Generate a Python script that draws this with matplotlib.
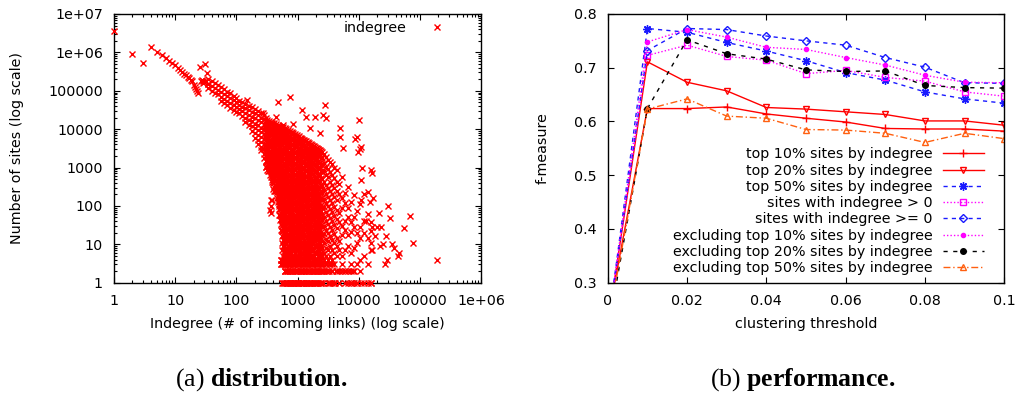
import numpy as np
import matplotlib.pyplot as plt

plt.rcParams['font.family'] = ['DejaVu Sans']
plt.rcParams['mathtext.fontset'] = 'custom'
plt.rcParams['mathtext.rm'] = 'Liberation Serif'
plt.rcParams['mathtext.bf'] = 'Liberation Serif:bold'

# ---- (a) indegree distribution ----
# low indegree trend, one point per indegree value
band_x = [1, 2, 3, 4, 5, 6, 7, 8, 9, 10, 11, 12, 13, 14, 15, 16, 17, 18, 19,
          20, 21, 22, 23, 24, 25, 26, 27, 28, 29, 30, 31, 32, 33, 34]
band_y = [3.6e6, 9e5, 5.2e5, 1.4e6, 1.05e6, 8.5e5, 7e5, 5.9e5, 5.2e5, 4.6e5,
          3.9e5, 3.5e5, 3.1e5, 2.8e5, 2.5e5, 2.3e5, 2.1e5, 1.95e5, 1.8e5,
          1.4e5, 1.25e5, 1.1e5, 1.0e5, 8.8e4, 4.2e5, 1.8e5, 1.9e5, 1.75e5,
          1.6e5, 1.7e5, 4.9e5, 1.8e5, 2.95e5, 1.5e5]

# denser part: indegree column -> counts read in that column
col_x = [35, 40, 45, 50, 56, 63, 70, 80, 90, 100,
         110, 125, 140, 160, 180, 200, 225, 250, 280,
         300, 320, 340, 365, 390, 415, 445, 475, 505, 540, 575, 615, 655,
         700, 750, 800, 855, 915, 980, 1050, 1120, 1200, 1280, 1370, 1460,
         1560, 1670, 1790, 1910, 2050, 2200, 2350, 2500,
         2700, 2900, 3150, 3400, 3700, 4000, 4400, 4800, 5300, 5900, 6600,
         7400, 8300, 9300, 10500, 12000, 14000, 16000]
col_y = [
    [2e5, 1.5e5, 1.15e5],
    [1.8e5, 1.35e5, 1.0e5],
    [1.6e5, 1.2e5, 9e4],
    [1.4e5, 1.05e5, 8e4],
    [1.25e5, 9.2e4, 7e4, 5.5e4],
    [1.1e5, 8.2e4, 6.2e4, 4.8e4],
    [9.5e4, 7.2e4, 5.4e4, 4.2e4],
    [8.5e4, 6.4e4, 4.8e4, 3.6e4],
    [7.5e4, 5.6e4, 4.2e4, 3.2e4],
    [6.5e4, 5e4, 3.7e4, 2.8e4],
    [55000, 42000, 33000, 26000],
    [50000, 38000, 29000, 22000],
    [46000, 35000, 26000, 20000, 15000],
    [41000, 31000, 23000, 17000, 12500],
    [38000, 28000, 21000, 16000, 12000, 9000],
    [34000, 26000, 19000, 14000, 10500, 7800, 6000],
    [30000, 23000, 17000, 12500, 9500, 7000, 5200, 4200],
    [27000, 20000, 15000, 11000, 8300, 6200, 4600, 3400, 2800],
    [24000, 18000, 13500, 10000, 7500, 5600, 4200, 3100, 2300, 1800],
    [19000, 13800, 10000, 7200, 5200, 3800, 2750, 2000, 1450, 1050],
    [17800, 12600, 8900, 6300, 4500, 3200, 2200, 1600, 1100, 850],
    [16600, 12300, 9100, 6800, 5000, 3700, 2750, 2040, 1500, 1120, 830],
    [15800, 11000, 7600, 5200, 3600, 2500, 1740, 1200, 830, 575, 100, 65],
    [14800, 10700, 7800, 5600, 4100, 2950, 2140, 1550, 1120, 810, 590, 430, 140],
    [14100, 10000, 7100, 5000, 3550, 2500, 1780, 1260, 890, 630, 450, 320, 250],
    [13500, 9900, 7200, 5300, 3900, 2850, 2100, 1530, 1120, 820, 600, 440, 320, 240],
    [12900, 9100, 6300, 4500, 3100, 2200, 1520, 1070, 750, 520, 370, 260, 180, 125],
    [12300, 8800, 6300, 4500, 3200, 2300, 1660, 1190, 850, 610, 440, 310, 224, 160, 115, 82, 59],
    [11700, 8300, 5900, 4200, 2950, 2100, 1480, 1050, 740, 520, 370, 260, 185, 130, 93, 66, 46, 33, 23, 4, 3],
    [11200, 8100, 5900, 4300, 3100, 2240, 1620, 1170, 850, 620, 450, 320, 234, 170, 123, 89, 65, 47, 34, 25, 18, 13, 9, 5, 3],
    [10700, 7400, 5100, 3500, 2450, 1700, 1170, 810, 560, 390, 270, 186, 129, 89, 62, 43, 30, 20, 14, 10, 7, 5, 4, 2],
    [10000, 7300, 5400, 3900, 2900, 2100, 1550, 1130, 830, 610, 450, 330, 240, 175, 128, 94, 69, 50, 37, 27, 20, 14, 11, 8, 6, 4, 3, 1],
    [9500, 6800, 4800, 3400, 2400, 1700, 1200, 850, 600, 425, 300, 214, 150, 107, 76, 54, 38, 27, 19, 13, 9, 6, 5, 3, 2],
    [9100, 6500, 4700, 3350, 2400, 1720, 1230, 880, 630, 450, 320, 230, 165, 118, 84, 60, 43, 31, 22, 16, 11, 8, 6, 4, 3, 1],
    [8500, 5950, 4200, 2950, 2050, 1440, 1000, 700, 490, 345, 240, 168, 118, 82, 58, 40, 28, 20, 14, 10, 7, 5, 4, 2],
    [7940, 5750, 4170, 3020, 2190, 1580, 1150, 830, 600, 440, 316, 230, 166, 120, 87, 63, 46, 33, 24, 17, 13, 9, 7, 5, 3, 1],
    [7400, 5250, 3700, 2600, 1860, 1320, 930, 660, 470, 330, 235, 168, 118, 83, 59, 42, 30, 21, 15, 10, 8, 6, 4, 2],
    [6900, 5070, 3720, 2720, 2000, 1460, 1070, 785, 575, 420, 310, 226, 166, 122, 89, 65, 48, 35, 26, 19, 14, 10, 7, 5, 3, 2, 1],
    [6450, 4450, 3100, 2140, 1480, 1020, 710, 490, 340, 234, 162, 112, 78, 54, 37, 26, 18, 12, 9, 6, 4, 3, 1],
    [6000, 4300, 3100, 2200, 1600, 1130, 810, 580, 415, 300, 213, 152, 109, 78, 56, 40, 29, 20, 15, 11, 8, 6, 4, 2],
    [5600, 4000, 2800, 2000, 1400, 1000, 710, 500, 355, 250, 178, 126, 89, 63, 45, 32, 22, 16, 11, 8, 6, 4, 3, 1],
    [5250, 3760, 2690, 1930, 1380, 990, 710, 510, 363, 260, 186, 133, 95, 68, 49, 35, 25, 18, 13, 9, 7, 5, 3, 2],
    [4900, 3450, 2400, 1700, 1180, 830, 580, 405, 285, 200, 140, 98, 68, 48, 34, 24, 16, 11, 8, 6, 4, 2, 1],
    [4570, 3310, 2400, 1740, 1260, 910, 660, 480, 347, 250, 182, 132, 95, 69, 50, 36, 26, 19, 14, 10, 7, 5, 3, 1],
    [4270, 2950, 2040, 1410, 970, 670, 465, 320, 220, 152, 105, 72, 50, 35, 24, 17, 12, 8, 6, 4, 2],
    [4000, 2850, 2050, 1460, 1050, 750, 535, 385, 275, 196, 140, 100, 72, 51, 37, 26, 19, 13, 9, 7, 5, 3, 1],
    [3700, 2630, 1860, 1320, 930, 660, 470, 330, 235, 166, 118, 83, 59, 42, 30, 21, 15, 10, 7, 5, 3, 2],
    [3470, 2400, 1660, 1150, 790, 550, 380, 260, 180, 126, 87, 60, 41, 29, 20, 14, 9, 6, 4, 2, 1],
    [3240, 2290, 1620, 1150, 810, 575, 410, 290, 204, 145, 102, 72, 51, 36, 26, 18, 13, 9, 6, 4, 3, 1],
    [3000, 2050, 1400, 950, 640, 440, 300, 200, 138, 93, 63, 43, 29, 20, 14, 9, 6, 4, 2],
    [2800, 1950, 1350, 933, 645, 447, 309, 214, 148, 102, 71, 49, 34, 23, 16, 11, 8, 5, 3, 1],
    [2600, 1740, 1150, 760, 500, 330, 220, 145, 96, 63, 42, 28, 18, 12, 8, 5, 3, 2],
    [2200, 1300, 820, 430, 260, 150, 95, 52, 30, 19, 11, 6, 4, 2],
    [1900, 1050, 640, 360, 200, 120, 70, 41, 24, 14, 8, 5, 3],
    [1600, 900, 560, 300, 175, 100, 58, 34, 20, 12, 7, 4, 2, 1],
    [1400, 760, 420, 250, 140, 82, 48, 28, 16, 9, 5, 3, 1],
    [1200, 640, 360, 210, 120, 68, 40, 23, 13, 7, 4, 2],
    [1000, 540, 300, 170, 96, 56, 32, 19, 11, 6, 3, 1],
    [850, 420, 240, 140, 80, 46, 27, 15, 9, 5, 2],
    [380, 200, 66, 38, 12, 7, 1],
    [550, 160, 90, 30, 17, 5, 3],
    [220, 120, 40, 23, 7, 2, 1],
    [320, 90, 52, 17, 9, 2],
    [130, 38, 21, 6, 3, 1],
    [190, 50, 28, 8, 2],
    [72, 20, 11, 3, 1],
    [110, 28, 15, 4, 2],
    [40, 20, 5, 1],
    [60, 15, 3],
    [22, 11, 1],
]

# second pass over the solid core, read between the columns above
core_x = [310, 330, 352, 377, 402, 430, 460, 490, 522, 557, 595, 635, 677,
          725, 775, 827, 885, 947, 1015, 1085, 1160, 1240, 1325, 1415, 1510,
          1615, 1730, 1850, 1980, 2125, 2275, 2425]
core_y = [
    [16600, 11700, 8300, 5900, 4200, 2950, 2100, 1480, 1050],
    [15100, 11000, 7900, 5750, 4170, 3020, 2190, 1580, 1150, 830],
    [14500, 10200, 7200, 5100, 3600, 2570, 1820, 1290, 910, 650],
    [13500, 9700, 6900, 4950, 3550, 2540, 1820, 1300, 930, 670, 480],
    [12600, 8900, 6300, 4470, 3160, 2240, 1580, 1120, 790, 560, 400, 280],
    [12000, 8700, 6300, 4570, 3310, 2400, 1740, 1260, 910, 660, 480, 347, 250],
    [11500, 8000, 5600, 3940, 2750, 1930, 1350, 940, 660, 460, 320, 226, 158],
    [11000, 7850, 5620, 4030, 2880, 2070, 1480, 1060, 760, 540, 390, 280, 200, 143, 102],
    [10500, 7400, 5250, 3700, 2630, 1860, 1320, 930, 660, 470, 330, 235, 166, 118, 83, 59, 42],
    [10000, 7200, 5250, 3800, 2750, 2000, 1450, 1050, 760, 550, 400, 290, 210, 150, 110, 79, 58, 42, 30, 22, 16, 11, 7],
    [9500, 6760, 4790, 3390, 2400, 1700, 1200, 850, 600, 430, 300, 214, 150, 107, 76, 54, 38, 27, 19, 13, 9, 6, 4, 3],
    [9100, 6500, 4700, 3350, 2400, 1720, 1230, 880, 630, 450, 320, 230, 166, 119, 85, 61, 44, 31, 22, 16, 11, 8, 5, 3, 2],
    [8700, 6200, 4400, 3100, 2200, 1550, 1100, 780, 550, 390, 275, 195, 138, 98, 69, 49, 35, 25, 17, 12, 8, 6, 4, 2, 1],
    [8300, 6000, 4370, 3160, 2290, 1660, 1200, 870, 630, 460, 330, 240, 174, 126, 91, 66, 48, 35, 25, 18, 13, 9, 7, 5, 3, 2],
    [7800, 5400, 3800, 2660, 1860, 1300, 910, 640, 450, 310, 220, 153, 107, 75, 52, 37, 26, 18, 13, 9, 6, 4, 3, 1],
    [7400, 5300, 3800, 2720, 1950, 1400, 1000, 720, 510, 370, 260, 190, 135, 97, 69, 50, 35, 25, 18, 13, 9, 7, 5, 3, 2],
    [7100, 5000, 3550, 2500, 1780, 1260, 890, 630, 450, 316, 224, 158, 112, 79, 56, 40, 28, 20, 14, 10, 7, 5, 3, 1],
    [6600, 4800, 3470, 2510, 1820, 1320, 950, 690, 500, 363, 263, 190, 138, 100, 72, 52, 38, 28, 20, 14, 10, 7, 5, 4, 2],
    [6300, 4400, 3100, 2160, 1510, 1060, 740, 520, 363, 254, 178, 124, 87, 61, 43, 30, 21, 15, 10, 7, 5, 3, 1],
    [5900, 4200, 3000, 2160, 1550, 1110, 790, 570, 410, 290, 210, 150, 107, 77, 55, 39, 28, 20, 14, 10, 7, 5, 3, 2],
    [5500, 3900, 2750, 1950, 1380, 980, 690, 490, 350, 245, 174, 123, 87, 62, 44, 31, 22, 16, 11, 8, 5, 4, 2],
    [5100, 3700, 2700, 1950, 1410, 1020, 740, 540, 390, 280, 204, 148, 107, 78, 56, 41, 30, 21, 15, 11, 8, 6, 4, 2, 1],
    [4800, 3350, 2340, 1640, 1150, 800, 560, 390, 275, 193, 135, 94, 66, 46, 32, 23, 16, 11, 8, 5, 3, 2],
    [4470, 3200, 2290, 1640, 1170, 840, 600, 430, 310, 221, 158, 114, 81, 58, 42, 30, 21, 15, 11, 8, 5, 3, 1],
    [4170, 2950, 2090, 1480, 1050, 740, 520, 370, 263, 186, 132, 93, 66, 47, 33, 23, 17, 12, 8, 6, 4, 2],
    [3900, 2690, 1860, 1290, 890, 620, 430, 295, 204, 141, 98, 68, 47, 32, 22, 15, 10, 7, 5, 3, 1],
    [3800, 2700, 1900, 1350, 950, 680, 480, 340, 240, 170, 120, 85, 60, 43, 30, 21, 15, 10, 7, 5, 3, 2],
    [3550, 2480, 1740, 1220, 850, 600, 420, 290, 204, 143, 100, 70, 49, 34, 24, 17, 12, 8, 5, 4, 2, 1],
    [3300, 2290, 1580, 1100, 760, 520, 363, 250, 174, 120, 83, 58, 40, 28, 19, 13, 9, 6, 4, 2],
    [3100, 2110, 1450, 990, 680, 460, 316, 216, 148, 101, 69, 47, 32, 22, 15, 10, 7, 5, 3, 1],
    [2900, 1950, 1320, 890, 600, 410, 275, 186, 126, 85, 58, 39, 26, 18, 12, 8, 5, 3, 2],
    [2700, 1800, 1200, 800, 540, 360, 240, 160, 107, 72, 48, 32, 21, 14, 9, 6, 4, 2, 1],
]

# scattered points away from the main cloud
spread_x = [150, 275, 450, 480, 580, 750, 850, 1170, 1400, 1600, 1900, 2300,
            2800, 2650, 2900, 4900, 4900, 5600, 8700, 9500, 10000, 11000,
            10500, 9800, 16000, 16500, 11000, 11500, 14000, 17000, 15500,
            11000, 30000, 21500, 33000, 69000, 16000, 16500, 20000, 23500,
            56000, 18500, 28000, 25000, 35000, 38000, 76000, 16000, 16800,
            46000, 44000, 188000, 29000, 27000, 370, 355, 22000, 13000, 12000]
spread_y = [57000, 26000, 21000, 52000, 13000, 70000, 14000, 31000, 21000,
            11000, 21000, 8000, 42000, 23000, 20000, 11000, 6400, 3300, 5700,
            6300, 17000, 3500, 3100, 2600, 860, 700, 470, 1000, 230, 160, 130,
            140, 100, 66, 48, 55, 39, 29, 28, 29, 27, 16, 16, 10, 10, 8, 11,
            7, 7, 6, 5, 4, 4, 3, 140, 78, 9, 40, 200]

# rows of small counts
row1_x = [550, 570, 610, 630, 680, 700, 760, 780, 840, 860, 920, 940, 1010,
          1030, 1120, 1140, 1240, 1260, 1370, 1400, 1520, 1550, 1700, 1900,
          2100, 2400, 2650, 3300, 3700, 4100, 4700, 6600, 7500, 8500, 9500,
          10800, 14000, 16000]
row2_x = [620, 680, 760, 840, 920, 1010, 1120, 1240, 1370, 1520, 1700, 1900,
          2100, 2400, 2650, 2950, 3300, 3700, 4200, 4700, 5300, 5900, 7500, 8200]
row3_x = [540, 560, 620, 690, 760, 840, 920, 1010, 1120, 1240, 1370, 1520,
          1700, 1900, 2100, 2400, 2650, 2950, 3300, 3700]
row4_x = [540, 560, 620, 690, 760, 840, 920, 1010, 1120, 1240, 1370, 1520,
          1700, 1900, 2100, 2300]

# ---- (b) performance ----
thr = [0.001, 0.01, 0.02, 0.03, 0.04, 0.05, 0.06, 0.07, 0.08, 0.09, 0.10]
top10 = [0.27, 0.624, 0.624, 0.627, 0.614, 0.606, 0.599, 0.587, 0.586, 0.586, 0.582]
top20 = [0.27, 0.711, 0.673, 0.657, 0.626, 0.623, 0.618, 0.613, 0.601, 0.601, 0.593]
top50 = [0.27, 0.773, 0.766, 0.747, 0.731, 0.713, 0.691, 0.677, 0.655, 0.642, 0.634]
gt0 = [0.27, 0.723, 0.742, 0.721, 0.714, 0.689, 0.695, 0.682, 0.675, 0.655, 0.647]
ge0 = [0.27, 0.732, 0.773, 0.771, 0.759, 0.750, 0.742, 0.719, 0.701, 0.672, 0.671]
ex10 = [0.27, 0.748, 0.771, 0.757, 0.738, 0.734, 0.719, 0.705, 0.686, 0.673, 0.672]
ex20 = [0.25, 0.624, 0.752, 0.726, 0.716, 0.696, 0.693, 0.694, 0.667, 0.663, 0.662]
ex50 = [0.26, 0.623, 0.642, 0.610, 0.606, 0.585, 0.584, 0.578, 0.561, 0.578, 0.568]

labels = ["top 10% sites by indegree", "top 20% sites by indegree",
          "top 50% sites by indegree", "sites with indegree > 0",
          "sites with indegree >= 0", "excluding top 10% sites by indegree",
          "excluding top 20% sites by indegree",
          "excluding top 50% sites by indegree"]

fig = plt.figure(figsize=(10.18, 3.93), dpi=100)
ax1 = fig.add_axes([0.112, 0.2807, 0.3605, 0.6837])
ax2 = fig.add_axes([0.597, 0.2807, 0.3895, 0.6837])

# scatter
sx = list(band_x)
sy = list(band_y)
for x, ys in list(zip(col_x, col_y)) + list(zip(core_x, core_y)):
    sx += [x] * len(ys)
    sy += ys
sx += spread_x
sy += spread_y
for v, xs in [(1, row1_x), (2, row2_x), (3, row3_x), (4, row4_x)]:
    sx += xs
    sy += [v] * len(xs)

ax1.plot(sx, sy, 'x', color='#ff0000', ms=4.3, mew=1.0, label='indegree',
         clip_on=False, zorder=3)
ax1.set_xscale('log')
ax1.set_yscale('log')
ax1.set_xlim(1, 1e6)
ax1.set_ylim(1, 1e7)
ax1.set_xticks([10 ** i for i in range(7)])
ax1.set_xticklabels(['1', '10', '100', '1000', '10000', '100000', '1e+06'])
ax1.set_yticks([10 ** i for i in range(8)])
ax1.set_yticklabels(['1', '10', '100', '1000', '10000', '100000', '1e+06', '1e+07'])
ax1.legend(loc='upper right', bbox_to_anchor=(0.937, 0.975), frameon=False,
           markerfirst=False, handlelength=2.9, handletextpad=0.7,
           borderpad=0, borderaxespad=0, fontsize=10.3, numpoints=1)

# lines
styles = [
    dict(color='#ff0000', ls='-', marker='+', ms=6, mfc='none'),
    dict(color='#ff0000', ls='-', marker='v', ms=5, mfc='none'),
    dict(color='#1a1aff', ls=(0, (3, 3)), marker=(8, 2, 0), ms=6, mfc='none'),
    dict(color='#ff00ff', ls=(0, (1, 1.5)), marker='s', ms=5, mfc='none'),
    dict(color='#1a1aff', ls=(0, (3, 3)), marker='D', ms=4, mfc='none'),
    dict(color='#ff00ff', ls=(0, (1, 1.5)), marker='o', ms=3),
    dict(color='#000000', ls=(0, (3, 4)), marker='o', ms=4),
    dict(color='#ff6010', ls=(0, (5, 2, 1, 2)), marker='^', ms=5, mfc='none'),
]
series = [top10, top20, top50, gt0, ge0, ex10, ex20, ex50]
for ys, st, lab in zip(series, styles, labels):
    ax2.plot(thr, ys, lw=1, label=lab, **st)

ax2.set_xlim(0, 0.1)
ax2.set_ylim(0.3, 0.8)
ax2.set_xticks([0, 0.02, 0.04, 0.06, 0.08, 0.1])
ax2.set_xticklabels(['0', '0.02', '0.04', '0.06', '0.08', '0.1'])
ax2.set_yticks([0.3, 0.4, 0.5, 0.6, 0.7, 0.8])
ax2.set_yticklabels(['0.3', '0.4', '0.5', '0.6', '0.7', '0.8'])
ax2.legend(loc='lower right', bbox_to_anchor=(0.949, 0.0275), frameon=False,
           markerfirst=False, handlelength=2.9, handletextpad=0.7,
           borderpad=0, borderaxespad=0, labelspacing=0.16, fontsize=10.3,
           numpoints=1)

for ax in (ax1, ax2):
    ax.tick_params(which='both', direction='in', top=True, right=True,
                   labelsize=10.3, pad=8, width=0.8)
    ax.tick_params(which='major', length=4.5)
    ax.tick_params(which='minor', length=2.5)
    for s in ax.spines.values():
        s.set_linewidth(1.0)

fig.text(297 / 1018, 1 - 324 / 393, 'Indegree (# of incoming links) (log scale)',
         ha='center', va='center', fontsize=10.3)
fig.text(17 / 1018, 1 - 148 / 393, 'Number of sites (log scale)',
         ha='center', va='center', rotation=90, fontsize=10.3)
fig.text(806 / 1018, 1 - 324 / 393, 'clustering threshold',
         ha='center', va='center', fontsize=10.3)
fig.text(543 / 1018, 1 - 148 / 393, 'f-measure',
         ha='center', va='center', rotation=90, fontsize=10.3)

fig.text(261 / 1018, 1 - 386 / 393, r'(a) $\mathbf{distribution.}$',
         ha='center', va='baseline', fontsize=18.5, family='Liberation Serif')
fig.text(803 / 1018, 1 - 386 / 393, r'(b) $\mathbf{performance.}$',
         ha='center', va='baseline', fontsize=18.5, family='Liberation Serif')

fig.savefig('out.png', dpi=100)
